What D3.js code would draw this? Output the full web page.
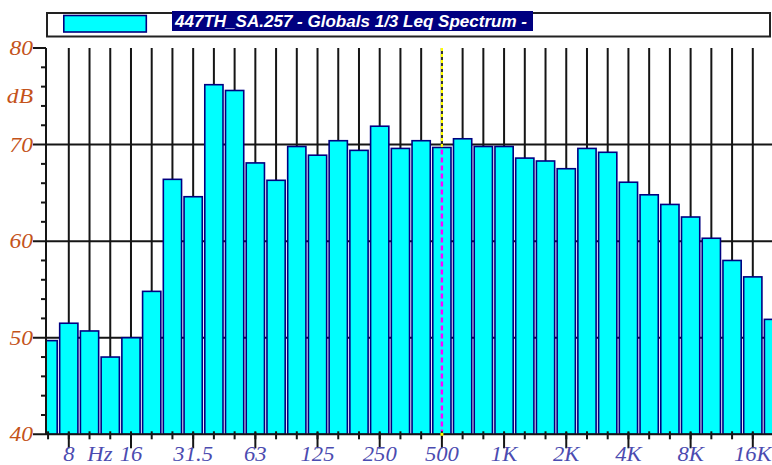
<!DOCTYPE html>
<html>
<head>
<meta charset="utf-8">
<script src="https://cdn.jsdelivr.net/npm/d3@7"></script>
<style>
  html, body { margin: 0; padding: 0; background: #fff; overflow: hidden; }
  svg { display: block; }
</style>
</head>
<body>
<svg id="chart" width="772" height="465"></svg>
<script>
// 1/3-octave band centre frequencies
const bands = ["6.3","8","10","12.5","16","20","25","31.5","40","50","63","80","100","125","160","200",
  "250","315","400","500","630","800","1K","1.25K","1.6K","2K","2.5K","3.15K","4K","5K","6.3K","8K",
  "10K","12.5K","16K","20K"];
// Leq per band, dB
const levels = [49.7, 51.5, 50.7, 48.0, 50.0, 54.8, 66.4, 64.6, 76.2, 75.6, 68.1, 66.3, 69.8, 68.9, 70.4, 69.4,
  71.9, 69.6, 70.4, 69.7, 70.6, 69.8, 69.8, 68.6, 68.3, 67.5, 69.6, 69.2, 66.1, 64.8, 63.8, 62.5,
  60.3, 58.0, 56.3, 51.9];
// labelled frequency ticks
const freqTickLabels = ["8","16","31.5","63","125","250","500","1K","2K","4K","8K","16K"];
const levelTicks = [40, 50, 60, 70, 80];
const title = "447TH_SA.257 - Globals 1/3 Leq Spectrum -";
const levelUnit = "dB";
const freqUnit = "Hz";
const markerBand = "500";

const W = 772, H = 465;
const plot = { left: 46, right: 772, top: 48, bottom: 434.3 };

const svg = d3.select("#chart");

// band index -> pixel (8 Hz at index 1, 16 kHz at index 34)
const x = d3.scaleLinear().domain([1, 34]).range([68.8, 752.8]);
const y = d3.scaleLinear().domain([40, 80]).range([plot.bottom, plot.top]);
const bw = x(1) - x(0);

const yLabelColor = "#c4531a";
const xLabelColor = "#4b4bb0";
const gridColor = "#151515";
const labelFont = "'Liberation Serif', 'Times New Roman', serif";

svg.append("rect").attr("width", W).attr("height", H).attr("fill", "#fff");

svg.append("defs").append("clipPath").attr("id", "plotClip")
  .append("rect")
  .attr("x", plot.left).attr("y", plot.top - 2)
  .attr("width", plot.right - plot.left).attr("height", plot.bottom - plot.top + 2);

// ---- grid (behind bars) ----
const grid = svg.append("g");
grid.selectAll("line.h")
  .data(levelTicks.filter(v => v > 40 && v < 80))
  .join("line")
  .attr("x1", 33).attr("x2", plot.right)
  .attr("y1", d => y(d)).attr("y2", d => y(d))
  .attr("stroke", gridColor).attr("stroke-width", 2);

const markerIdx = bands.indexOf(markerBand);
grid.selectAll("line.v")
  .data(d3.range(1, 35).filter(i => i !== markerIdx))
  .join("line")
  .attr("x1", i => x(i)).attr("x2", i => x(i))
  .attr("y1", plot.top).attr("y2", plot.bottom)
  .attr("stroke", gridColor).attr("stroke-width", 2);

// ---- bars ----
svg.append("g").attr("clip-path", "url(#plotClip)")
  .selectAll("rect")
  .data(levels)
  .join("rect")
  .attr("x", (d, i) => x(i) - bw / 2 + 1.25)
  .attr("width", bw - 2.5)
  .attr("y", d => y(d))
  .attr("height", d => y(40) - y(d))
  .attr("fill", "#00ffff")
  .attr("stroke", "#000080")
  .attr("stroke-width", 1.6);

// ---- 500 Hz marker ----
const mx = x(markerIdx);
const mTop = y(levels[markerIdx]);
svg.append("line")
  .attr("x1", mx).attr("x2", mx).attr("y1", plot.top).attr("y2", mTop)
  .attr("stroke", "#333").attr("stroke-width", 2.2);
svg.append("line")
  .attr("x1", mx).attr("x2", mx).attr("y1", plot.top).attr("y2", mTop)
  .attr("stroke", "#ffff00").attr("stroke-width", 2.2).attr("stroke-dasharray", "3,3");
svg.append("line")
  .attr("x1", mx).attr("x2", mx).attr("y1", mTop + 2).attr("y2", plot.bottom - 2)
  .attr("stroke", "#ff00ff").attr("stroke-width", 2.4).attr("stroke-dasharray", "5,3");

// ---- axes ----
svg.append("line")
  .attr("x1", plot.left).attr("x2", plot.left).attr("y1", plot.top).attr("y2", plot.bottom)
  .attr("stroke", gridColor).attr("stroke-width", 2);
svg.append("line")
  .attr("x1", 33).attr("x2", plot.right).attr("y1", plot.bottom).attr("y2", plot.bottom)
  .attr("stroke", gridColor).attr("stroke-width", 2);

// level ticks
svg.append("g").selectAll("line")
  .data(d3.range(42, 80, 2).filter(v => v % 10 !== 0))
  .join("line")
  .attr("x1", 41).attr("x2", plot.left)
  .attr("y1", d => y(d)).attr("y2", d => y(d))
  .attr("stroke", gridColor).attr("stroke-width", 2);
svg.append("g").selectAll("line")
  .data([80])
  .join("line")
  .attr("x1", 33).attr("x2", plot.left)
  .attr("y1", d => y(d)).attr("y2", d => y(d))
  .attr("stroke", gridColor).attr("stroke-width", 2);

// level labels, slightly widened serif italic
const yLab = svg.append("g");
yLab.selectAll("text")
  .data(levelTicks)
  .join("text")
  .attr("transform", d => `translate(33,${y(d) + 7}) scale(1.12,1)`)
  .attr("text-anchor", "end")
  .attr("font-family", labelFont)
  .attr("font-style", "italic").attr("font-size", 21)
  .attr("fill", yLabelColor)
  .text(d => d);
yLab.append("text")
  .attr("transform", "translate(33,103) scale(1.12,1)")
  .attr("text-anchor", "end")
  .attr("font-family", labelFont)
  .attr("font-style", "italic").attr("font-size", 21)
  .attr("fill", yLabelColor)
  .text(levelUnit);

// frequency ticks
svg.append("g").selectAll("line")
  .data(d3.range(0, 35))
  .join("line")
  .attr("x1", i => x(i)).attr("x2", i => x(i))
  .attr("y1", plot.bottom - 3).attr("y2", plot.bottom + 5)
  .attr("stroke", gridColor).attr("stroke-width", 2);
const majorIdx = freqTickLabels.map(l => bands.indexOf(l));
svg.append("g").selectAll("line")
  .data(majorIdx)
  .join("line")
  .attr("x1", i => x(i)).attr("x2", i => x(i))
  .attr("y1", plot.bottom - 2).attr("y2", plot.bottom + 14)
  .attr("stroke", gridColor).attr("stroke-width", 2);
svg.append("rect")
  .attr("x", mx - 1.5).attr("y", plot.bottom - 1.5).attr("width", 3).attr("height", 3)
  .attr("fill", "#ffff00");

svg.append("g").selectAll("text")
  .data(freqTickLabels)
  .join("text")
  .attr("transform", l => `translate(${x(bands.indexOf(l))},461) scale(1.08,1)`)
  .attr("text-anchor", "middle")
  .attr("font-family", labelFont)
  .attr("font-style", "italic").attr("font-size", 21)
  .attr("fill", xLabelColor)
  .text(l => l);
svg.append("text")
  .attr("transform", `translate(${x(2.5)},461) scale(1.08,1)`)
  .attr("text-anchor", "middle")
  .attr("font-family", labelFont)
  .attr("font-style", "italic").attr("font-size", 21)
  .attr("fill", xLabelColor)
  .text(freqUnit);

// ---- legend ----
const legend = svg.append("g");
legend.append("rect")
  .attr("x", 47).attr("y", 13).attr("width", 723).attr("height", 23.5)
  .attr("fill", "#fff").attr("stroke", "#222").attr("stroke-width", 2);
legend.append("rect")
  .attr("x", 63.8).attr("y", 15.5).attr("width", 82.5).attr("height", 16.5)
  .attr("fill", "#00ffff").attr("stroke", "#000080").attr("stroke-width", 1.6);
legend.append("rect")
  .attr("x", 172).attr("y", 11).attr("width", 361).attr("height", 20)
  .attr("fill", "#000080");
legend.append("text")
  .attr("x", 175).attr("y", 26.5)
  .attr("font-family", "'Liberation Sans', Arial, sans-serif")
  .attr("font-weight", "bold").attr("font-style", "italic").attr("font-size", 17)
  .attr("fill", "#fff")
  .attr("textLength", 352).attr("lengthAdjust", "spacingAndGlyphs")
  .text(title);
</script>
</body>
</html>
